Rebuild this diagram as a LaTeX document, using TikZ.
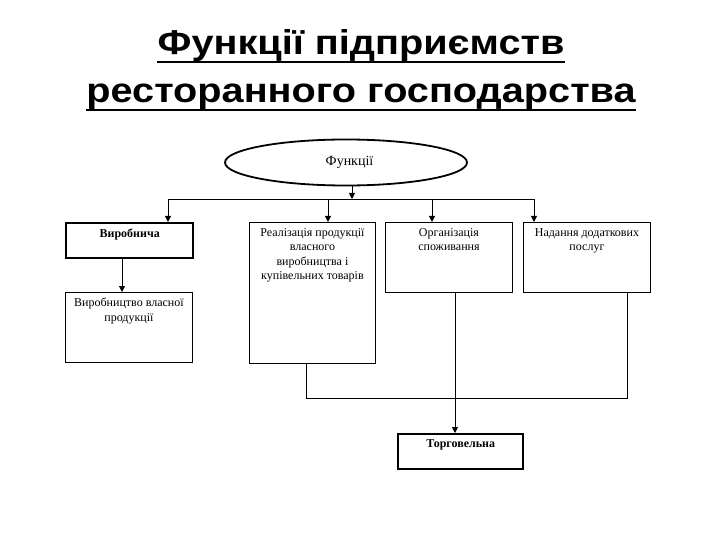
\documentclass[tikz,border=0pt]{standalone}
\usepackage{fontspec}
\setmainfont{Liberation Serif}
\newfontfamily\titlefont{Liberation Sans}
\usetikzlibrary{arrows.meta,shapes.geometric}
\begin{document}
\begin{tikzpicture}[x=1pt,y=-1pt,
  thin line/.style={line width=0.9pt},
  arr/.style={thin line,-{Triangle[length=6pt,width=6pt]}},
  box/.style={draw,line width=0.9pt,inner sep=0pt,anchor=north west},
  thickbox/.style={draw,line width=2.4pt,inner sep=0pt,anchor=north west},
  lab/.style={anchor=north,align=center,font=\fontsize{12}{14.5}\selectfont,inner sep=0pt},
  blab/.style={lab,font=\bfseries\fontsize{12}{14.5}\selectfont},
  ttl/.style={anchor=base,inner sep=0pt,xscale=1.15,font=\titlefont\bfseries\fontsize{34.5}{40}\selectfont},
  uline/.style={line width=2.6pt}
]
\useasboundingbox[fill=white] (0,0) rectangle (720,540);
% title
\node[ttl] (t1) at (361,55) {Функції підприємств};
\node[ttl] (t2) at (361,103) {ресторанного господарства};
\draw[uline] ([yshift=-7pt]t1.base west) -- ([yshift=-7pt]t1.base east);
\draw[uline] ([yshift=-7pt]t2.base west) -- ([yshift=-7pt]t2.base east);
% ellipse
\node[draw,ellipse,line width=1.8pt,minimum width=242pt,minimum height=46pt,inner sep=0pt] (e) at (346,162.5) {};
\node[inner sep=0pt,font=\fontsize{14}{16}\selectfont] (et) at (349.5,162.5) {Функції};
% boxes
\node[thickbox,minimum width=127pt,minimum height=35pt] (b1) at (65,222) {};
\node[box,minimum width=126pt,minimum height=141pt] (b2) at (249,222) {};
\node[box,minimum width=127pt,minimum height=70pt] (b3) at (385,222) {};
\node[box,minimum width=127pt,minimum height=70pt] (b4) at (523,222) {};
\node[box,minimum width=127pt,minimum height=70pt] (b5) at (65,292) {};
\node[thickbox,minimum width=125pt,minimum height=35pt] (b6) at (397,433) {};
% labels
\node[blab] (l1) at ([yshift=-6.5pt]b1.north) {Виробнича};
\node[lab] (l2) at ([yshift=-6pt]b2.north) {Реалізація продукції\\власного\\виробництва і\\купівельних товарів};
\node[lab] (l3) at ([yshift=-6pt]b3.north) {Організація\\споживання};
\node[lab] (l4) at ([yshift=-6pt]b4.north) {Надання додаткових\\послуг};
\node[lab] (l5) at ([yshift=-6pt]b5.north) {Виробництво власної\\продукції};
\node[blab] (l6) at ([yshift=-6.5pt]b6.north) {Торговельна};
% connectors
\coordinate (bus) at (352,199);
\coordinate (d1) at (168,199);
\coordinate (d2) at (328,199);
\coordinate (d3) at (432,199);
\coordinate (d4) at (534,199);
\draw[arr] (bus |- e.south) -- (bus);
\draw[thin line] (d1) -- (d4);
\draw[arr] (d1) -- (d1 |- b1.north);
\draw[arr] (d2) -- (d2 |- b2.north);
\draw[arr] (d3) -- (d3 |- b3.north);
\draw[arr] (d4) -- (d4 |- b4.north);
\coordinate (c1) at (122,257);
\draw[arr] (c1 |- b1.south) -- (c1 |- b5.north);
\coordinate (j) at (306,398);
\coordinate (k) at (627,398);
\draw[thin line] (j |- b2.south) -- (j) -- (k) -- (k |- b4.south);
\coordinate (m) at (455,398);
\draw[arr] (m |- b3.south) -- (m |- b6.north);
\end{tikzpicture}
\end{document}
